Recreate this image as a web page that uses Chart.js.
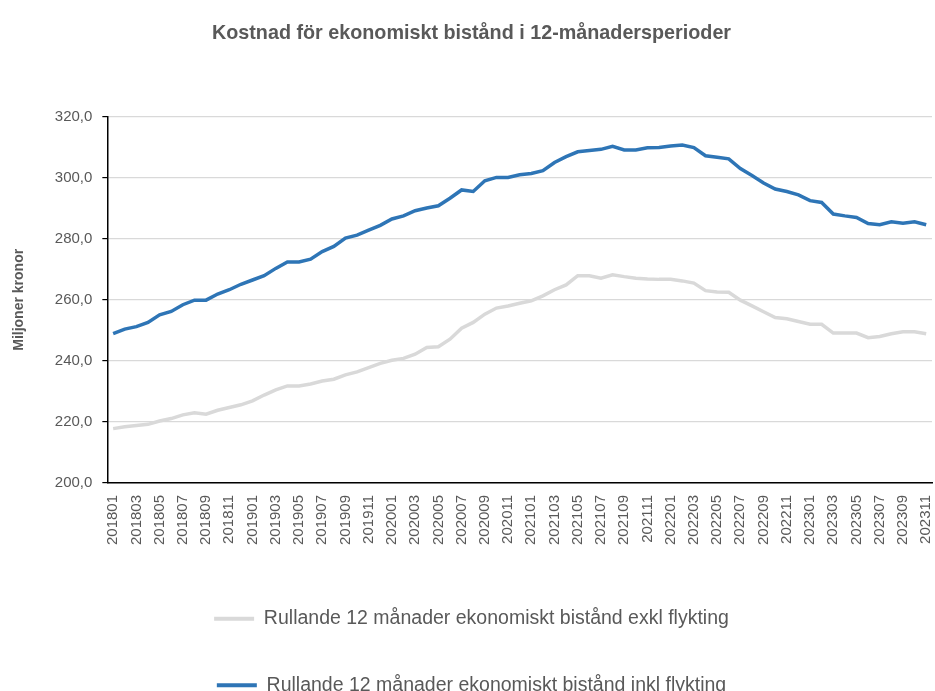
<!DOCTYPE html>
<html>
<head>
<meta charset="utf-8">
<script src="https://cdn.jsdelivr.net/npm/chart.js@4.4.1/dist/chart.umd.min.js"></script>
<style>
  html, body { margin: 0; padding: 0; background: #fff; }
  #wrap { position: relative; width: 935px; height: 691px; }
</style>
</head>
<body>
<div id="wrap"><canvas id="chart"></canvas></div>
<script>
// Months 201801 .. 202311
const months = [];
for (let y = 2018; y <= 2023; y++) {
  for (let m = 1; m <= 12; m++) {
    if (y === 2023 && m > 11) break;
    months.push(String(y) + String(m).padStart(2, "0"));
  }
}

// Rullande 12 månader, miljoner kronor
const exklFlykting = [
  217.8, 218.4, 218.8, 219.2, 220.3, 221.1, 222.3, 223.0, 222.5, 223.8,
  224.7, 225.6, 226.9, 228.8, 230.5, 231.8, 231.8, 232.4, 233.4, 234.0,
  235.4, 236.4, 237.8, 239.2, 240.2, 240.8, 242.2, 244.4, 244.6, 247.1,
  250.7, 252.6, 255.3, 257.3, 258.0, 258.9, 259.7, 261.3, 263.3, 264.9,
  267.9, 267.9, 267.1, 268.2, 267.6, 267.1, 266.8, 266.7, 266.7, 266.2,
  265.5, 263.0, 262.6, 262.5, 259.9, 258.0, 256.1, 254.2, 253.8, 252.9,
  252.0, 252.0, 249.1, 249.1, 249.1, 247.6, 248.0, 248.9, 249.5, 249.5,
  248.9
];
const inklFlykting = [
  248.9, 250.4, 251.2, 252.6, 255.1, 256.2, 258.4, 259.9, 259.9, 261.9,
  263.3, 265.1, 266.5, 267.9, 270.3, 272.4, 272.4, 273.3, 275.8, 277.5,
  280.2, 281.2, 282.8, 284.4, 286.5, 287.5, 289.2, 290.1, 290.8, 293.3,
  296.0, 295.5, 299.0, 300.1, 300.1, 301.0, 301.4, 302.3, 305.0, 306.9,
  308.5, 308.9, 309.3, 310.3, 309.1, 309.1, 309.8, 309.9, 310.4, 310.7,
  309.9, 307.2, 306.7, 306.2, 303.0, 300.7, 298.3, 296.3, 295.5, 294.4,
  292.5, 291.9, 288.1, 287.5, 287.0, 285.0, 284.6, 285.6, 285.1, 285.6,
  284.6
];

const yTicks = [200, 220, 240, 260, 280, 300, 320];

const gray = "#d9d9d9";
const blue = "#2e75b6";
const textCol = "#595959";
const FONT = "'Liberation Sans', Arial, sans-serif";

Chart.defaults.font.family = FONT;
Chart.defaults.color = textCol;

new Chart(document.getElementById("chart"), {
  type: "line",
  data: {
    labels: months,
    datasets: [
      {
        label: "Rullande 12 månader ekonomiskt bistånd exkl flykting",
        data: exklFlykting,
        borderColor: gray,
        backgroundColor: gray,
        borderWidth: 3.5,
        pointRadius: 0,
        tension: 0,
      },
      {
        label: "Rullande 12 månader ekonomiskt bistånd inkl flykting",
        data: inklFlykting,
        borderColor: blue,
        backgroundColor: blue,
        borderWidth: 3.5,
        pointRadius: 0,
        tension: 0,
      },
    ],
  },
  options: {
    responsive: true,
    maintainAspectRatio: false,
    animation: false,
    layout: { padding: { left: 11, right: 3, top: 0, bottom: -14 } },
    plugins: {
      title: {
        display: true,
        text: "Kostnad för ekonomiskt bistånd i 12-månadersperioder",
        color: textCol,
        font: { size: 19.75, weight: "bold" },
        padding: { top: 22, bottom: 71 },
      },
      legend: {
        position: "bottom",
        labels: {
          color: textCol,
          font: { size: 19.5 },
          boxWidth: 40,
          boxHeight: 4,
          padding: 47,
          generateLabels: (chart) =>
            Chart.defaults.plugins.legend.labels
              .generateLabels(chart)
              .map((l) => ({ ...l, lineWidth: 0 })),
        },
      },
      tooltip: { enabled: false },
    },
    scales: {
      x: {
        offset: true,
        grid: { display: false },
        border: { display: true, color: "#000", width: 1.5 },
        afterFit: (axis) => {
          axis.height += 13;
          axis.paddingLeft = 0;
          axis.paddingRight = 0;
        },
        ticks: {
          autoSkip: false,
          maxRotation: 90,
          minRotation: 90,
          color: textCol,
          font: { size: 15 },
          padding: 4,
          callback: (v, i) => (i % 2 === 0 ? months[i] : ""),
        },
      },
      y: {
        min: 200,
        max: 320,
        afterBuildTicks: (axis) => {
          axis.ticks = yTicks.map((v) => ({ value: v }));
        },
        grid: { color: gray, lineWidth: 1.2, tickColor: "#000", tickLength: 5 },
        border: { display: true, color: "#000", width: 1.5 },
        ticks: {
          color: textCol,
          font: { size: 15 },
          padding: 10,
          callback: (v) => v.toFixed(1).replace(".", ","),
        },
        title: {
          display: true,
          text: "Miljoner kronor",
          color: textCol,
          font: { size: 14, weight: "bold" },
          padding: { top: 0, bottom: 17 },
        },
      },
    },
  },
});
</script>
</body>
</html>
